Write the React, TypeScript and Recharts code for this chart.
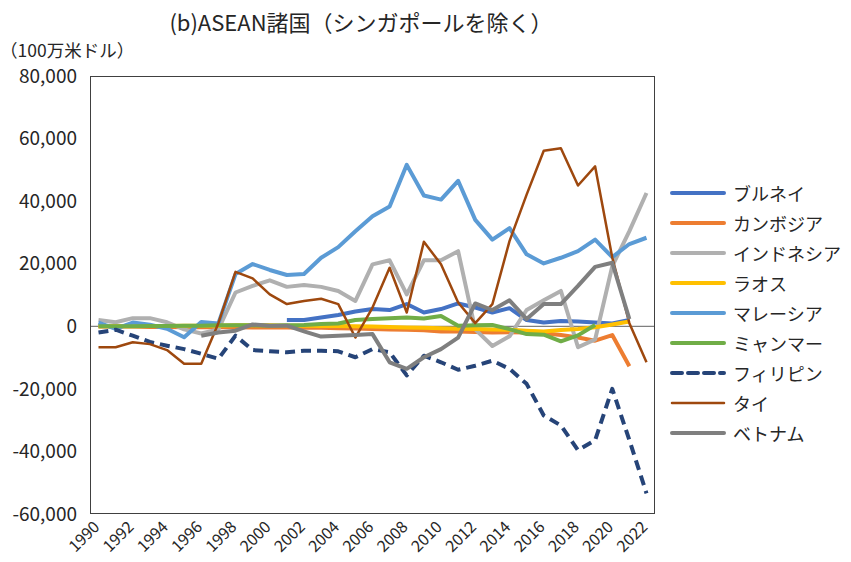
import { LineChart, Line, XAxis, YAxis, ReferenceLine } from "recharts";

const years = [
  "1990", "1991", "1992", "1993", "1994", "1995", "1996", "1997", "1998", "1999", "2000",
  "2001", "2002", "2003", "2004", "2005", "2006", "2007", "2008", "2009", "2010",
  "2011", "2012", "2013", "2014", "2015", "2016", "2017", "2018", "2019", "2020",
  "2021", "2022",
];

const brunei = [
  null, null, null, null, null, null, null, null, null, null, null,
  2000, 2000, 2800, 3600, 4700, 5500, 5200, 7100, 4400, 5500,
  7300, 6000, 4400, 5800, 2000, 1200, 1700, 1500, 1200, 900,
  2000, null,
];
const cambodia = [
  -100, -100, -100, -200, -200, -300, -300, -300, -300, -400, -400,
  -400, -500, -500, -600, -700, -900, -1000, -1100, -1300, -1700,
  -1700, -1800, -2000, -1900, -2000, -2200, -2800, -3600, -4600, -2800,
  -12800, null,
];
const indonesia = [
  2000, 1300, 2600, 2600, 1300, -1000, -2300, -1000, 10800, 12900, 14700,
  12600, 13200, 12600, 11300, 8100, 19800, 21100, 10200, 21100, 21100,
  24000, -1000, -6300, -3200, 5200, 8300, 11300, -6700, -4200, 19200,
  30400, 42600,
];
const laos = [
  0, 0, 0, 100, 100, 200, 200, 200, 300, 300, 300,
  200, 200, 100, 100, 0, -100, -200, -400, -500, -600,
  -800, -900, -1000, -1100, -1400, -1700, -1200, -900, -300, 600,
  1500, null,
];
const malaysia = [
  1200, -800, 1200, 500, -800, -3500, 1400, 900, 16700, 19900, 18000,
  16400, 16700, 21900, 25300, 30400, 35200, 38300, 51600, 41800, 40500,
  46500, 34000, 27700, 31400, 23000, 20100, 21900, 24000, 27700, 22100,
  26300, 28300,
];
const myanmar = [
  0, 0, 0, 100, 100, 200, 200, 300, 300, 300, 200,
  300, 400, 700, 900, 2000, 2300, 2600, 2800, 2500, 3300,
  200, 300, 400, -900, -2500, -2700, -4800, -2900, 400, null,
  null, null,
];
const philippines = [
  -2000, -1100, -3000, -5000, -6200, -7300, -8800, -10400, -3000, -7600, -8000,
  -8300, -7800, -7800, -8000, -9900, -7300, -8300, -15700, -9400, -11500,
  -13900, -12600, -11000, -13600, -18400, -28500, -31700, -39600, -36400, -20000,
  -36400, -53400,
];
const thailand = [
  -6700, -6700, -5100, -5700, -7600, -12000, -12000, 1000, 17400, 15300, 10200,
  7100, 8100, 8800, 7100, -3600, 6000, 18700, 4400, 27000, 19800,
  7600, 1000, 7100, 27200, 42100, 56100, 56900, 45000, 51100, 22000,
  1000, -11500,
];
const vietnam = [
  null, null, null, null, null, null, -3000, -2000, -1400, 600, 200,
  200, -1600, -3300, -3000, -2800, -2500, -11500, -13600, -9900, -7300,
  -3600, 7300, 5200, 8300, 2300, 7100, 7100, 12900, 19000, 20300,
  2300, null,
];

const yTicks = [-60000, -40000, -20000, 0, 20000, 40000, 60000, 80000];

const series = [
  { key: "brunei", name: "ブルネイ", values: brunei, color: "#4472C4", width: 4 },
  { key: "cambodia", name: "カンボジア", values: cambodia, color: "#ED7D31", width: 4 },
  { key: "indonesia", name: "インドネシア", values: indonesia, color: "#B0B0B0", width: 4 },
  { key: "laos", name: "ラオス", values: laos, color: "#FFC000", width: 4 },
  { key: "malaysia", name: "マレーシア", values: malaysia, color: "#5B9BD5", width: 4 },
  { key: "myanmar", name: "ミャンマー", values: myanmar, color: "#70AD47", width: 4 },
  { key: "philippines", name: "フィリピン", values: philippines, color: "#264478", width: 4, dash: "10 6" },
  { key: "thailand", name: "タイ", values: thailand, color: "#9E480E", width: 2.5 },
  { key: "vietnam", name: "ベトナム", values: vietnam, color: "#7F7F7F", width: 4 },
];

const data = years.map((year, i) => {
  const row: any = { year };
  series.forEach((s) => {
    row[s.key] = s.values[i];
  });
  return row;
});

const FONT = '"Noto Sans CJK JP", "Noto Sans", sans-serif';
const TEXT = "#262626";

const YearTick = ({ x, y, payload }: any) => (
  <text
    x={x + 2}
    y={y + 6}
    transform={`rotate(-45, ${x + 2}, ${y + 6})`}
    textAnchor="end"
    fontSize={16}
    fill={TEXT}
    fontFamily={FONT}
  >
    {payload.value}
  </text>
);

const LegendList = () => (
  <div style={{ position: "absolute", left: 670, top: 178, fontSize: 18, color: TEXT }}>
    {series.map((s) => (
      <div key={s.key} style={{ display: "flex", alignItems: "center", height: 30 }}>
        <svg width={56} height={10} style={{ marginRight: 7 }}>
          <line
            x1={2}
            y1={5}
            x2={54}
            y2={5}
            stroke={s.color}
            strokeWidth={s.width}
            strokeDasharray={s.dash}
            strokeLinecap="round"
          />
        </svg>
        <span>{s.name}</span>
      </div>
    ))}
  </div>
);

export default function App() {
  return (
    <div style={{ position: "absolute", left: 0, top: 0, width: 851, height: 562, background: "#fff", fontFamily: FONT }}>
      <div
        style={{
          position: "absolute",
          left: 0,
          top: 5,
          width: 722,
          textAlign: "center",
          fontSize: 22,
          color: TEXT,
          lineHeight: "32px",
        }}
      >
        (b)ASEAN諸国（シンガポールを除く）
      </div>
      <div style={{ position: "absolute", left: 0, top: 36, fontSize: 17.5, color: TEXT, lineHeight: "28px" }}>
        （100万米ドル）
      </div>
      <LineChart
        width={851}
        height={562}
        data={data}
        margin={{ top: 76, right: 196, bottom: 0, left: 0 }}
      >
        <XAxis
          dataKey="year"
          interval={1}
          padding={{ left: 8.5, right: 8.5 }}
          tickLine={false}
          axisLine={false}
          height={48}
          tick={<YearTick />}
        />
        <YAxis
          domain={[-60000, 80000]}
          ticks={yTicks}
          width={90}
          tickLine={false}
          tickSize={0}
          tickMargin={13}
          axisLine={false}
          tick={{ fontSize: 19, fill: TEXT, fontFamily: FONT }}
          tickFormatter={(v: number) => v.toLocaleString("en-US")}
        />
        <ReferenceLine y={0} stroke="#7F7F7F" strokeWidth={1.2} />
        {series.map((s) => (
          <Line
            key={s.key}
            dataKey={s.key}
            name={s.name}
            stroke={s.color}
            strokeWidth={s.width}
            strokeDasharray={s.dash}
            strokeLinejoin="round"
            dot={false}
            activeDot={false}
            isAnimationActive={false}
          />
        ))}
      </LineChart>
      <div
        style={{
          position: "absolute",
          left: 90,
          top: 76,
          width: 565,
          height: 438,
          border: "1.2px solid #404040",
          boxSizing: "border-box",
          pointerEvents: "none",
        }}
      />
      <LegendList />
    </div>
  );
}
